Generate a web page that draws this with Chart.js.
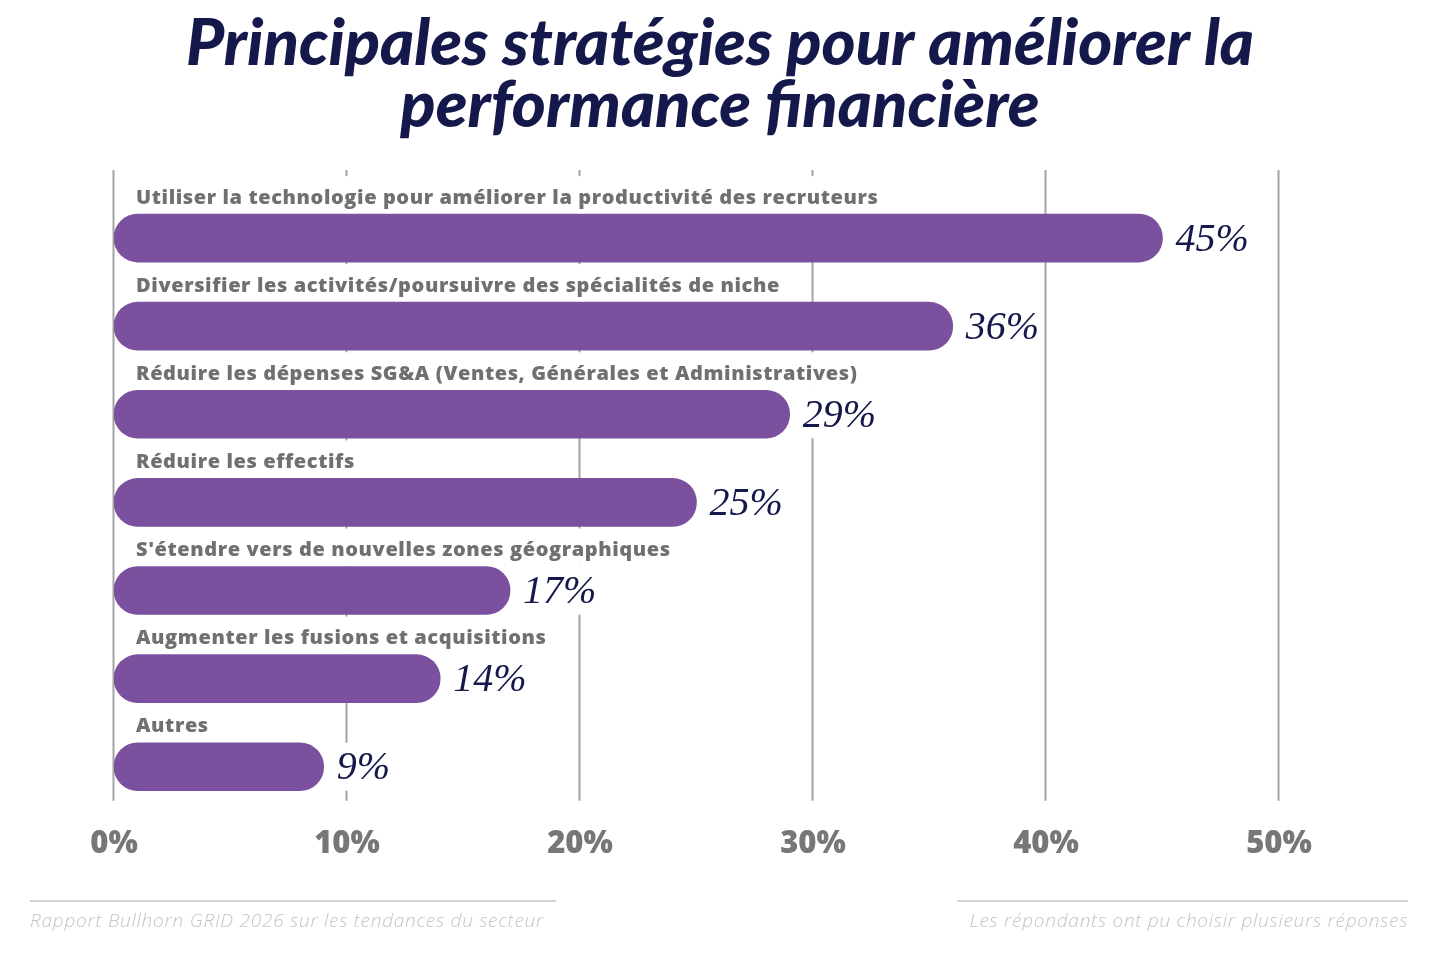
<!DOCTYPE html>
<html lang="fr">
<head>
<meta charset="utf-8">
<title>Principales stratégies pour améliorer la performance financière</title>
<script src="https://cdn.jsdelivr.net/npm/chart.js@4.4.1/dist/chart.umd.min.js"></script>
<style>
  html, body { margin: 0; padding: 0; background: #fff; }
  #wrap { width: 1440px; height: 956px; position: relative; }
</style>
</head>
<body>
<div id="wrap"><canvas id="chart"></canvas></div>
<script>
// data
const categories = [
  'Utiliser la technologie pour améliorer la productivité des recruteurs',
  'Diversifier les activités/poursuivre des spécialités de niche',
  'Réduire les dépenses SG&A (Ventes, Générales et Administratives)',
  'Réduire les effectifs',
  "S'étendre vers de nouvelles zones géographiques",
  'Augmenter les fusions et acquisitions',
  'Autres'
];
const shares = [45, 36, 29, 25, 17, 14, 9];
const tickValues = [0, 10, 20, 30, 40, 50];
const titleLines = ['Principales stratégies pour améliorer la', 'performance financière'];
const sourceNote = 'Rapport Bullhorn GRID 2026 sur les tendances du secteur';
const sampleNote = 'Les répondants ont pu choisir plusieurs réponses';

const PURPLE = '#7b519f';
const NAVY = '#15184a';
const GREY = '#777777';

// title, gridlines, category labels above bars, value labels and footer
const decor = {
  id: 'decor',
  beforeDatasetsDraw(chart) {
    const { ctx, chartArea, scales } = chart;
    const x = scales.x;
    ctx.save();
    ctx.strokeStyle = '#a3a3a3';
    ctx.lineWidth = 2;
    tickValues.forEach(v => {
      const px = Math.round(x.getPixelForValue(v)) - 0.5;
      ctx.beginPath();
      ctx.moveTo(px, chartArea.top - 24);
      ctx.lineTo(px, chartArea.bottom - 10);
      ctx.stroke();
    });

    const bars = chart.getDatasetMeta(0).data;
    ctx.font = '800 20px "Open Sans"';
    ctx.letterSpacing = '0.6px';
    ctx.textBaseline = 'middle';
    ctx.textAlign = 'left';
    bars.forEach((bar, i) => {
      const top = bar.y - bar.height / 2;
      const lx = chartArea.left + 22;
      const w = ctx.measureText(categories[i]).width;
      ctx.fillStyle = '#fff';
      ctx.fillRect(lx - 6, top - 38, w + 10, 38);
      ctx.fillStyle = '#707070';
      ctx.fillText(categories[i], lx, bar.y - 40);
    });
    ctx.restore();
  },
  afterDatasetsDraw(chart) {
    const { ctx } = chart;
    const bars = chart.getDatasetMeta(0).data;
    ctx.save();
    ctx.font = 'italic 400 40px "Liberation Serif"';
    ctx.textBaseline = 'middle';
    ctx.textAlign = 'left';
    bars.forEach((bar, i) => {
      const txt = shares[i] + '%';
      const w = ctx.measureText(txt).width;
      const tx = bar.x + 13;
      ctx.fillStyle = '#fff';
      ctx.fillRect(tx - 4, bar.y - bar.height / 2, w + 8, bar.height);
      ctx.fillStyle = NAVY;
      ctx.fillText(txt, tx, bar.y + 2);
    });
    ctx.restore();
  },
  afterDraw(chart) {
    const { ctx, width } = chart;
    ctx.save();
    // title, centred on the whole page
    ctx.fillStyle = NAVY;
    ctx.font = 'italic 900 65px "Lato"';
    ctx.textAlign = 'center';
    ctx.textBaseline = 'middle';
    titleLines.forEach((line, i) => ctx.fillText(line, width / 2, 44 + i * 62));

    // footer
    ctx.strokeStyle = '#d2d2d2';
    ctx.lineWidth = 2;
    ctx.beginPath();
    ctx.moveTo(30, 901); ctx.lineTo(556, 901);
    ctx.moveTo(957, 901); ctx.lineTo(1408, 901);
    ctx.stroke();
    ctx.fillStyle = '#c4c4c4';
    ctx.font = 'italic 300 19px "Open Sans"';
    ctx.letterSpacing = '0.75px';
    ctx.textAlign = 'left';
    ctx.fillText(sourceNote, 30, 922);
    ctx.textAlign = 'right';
    ctx.fillText(sampleNote, 1408, 922);
    ctx.restore();
  }
};

new Chart(document.getElementById('chart'), {
  type: 'bar',
  data: {
    labels: categories,
    datasets: [{
      data: shares,
      backgroundColor: PURPLE,
      barThickness: 48,
      borderRadius: 24,
      borderSkipped: false
    }]
  },
  options: {
    indexAxis: 'y',
    responsive: true,
    maintainAspectRatio: false,
    animation: false,
    layout: { padding: { left: 114, right: 161, top: 194, bottom: 78 } },
    scales: {
      x: {
        min: 0,
        max: 50,
        afterBuildTicks: scale => { scale.ticks = tickValues.map(v => ({ value: v })); },
        grid: { display: false, drawTicks: false },
        border: { display: false },
        ticks: {
          padding: 15,
          color: GREY,
          font: { family: 'Open Sans', size: 31, weight: '800' },
          callback: v => v + '%'
        }
      },
      y: { display: false }
    },
    plugins: {
      legend: { display: false },
      tooltip: { enabled: false },
      title: { display: false }
    }
  },
  plugins: [decor]
});
</script>
</body>
</html>
